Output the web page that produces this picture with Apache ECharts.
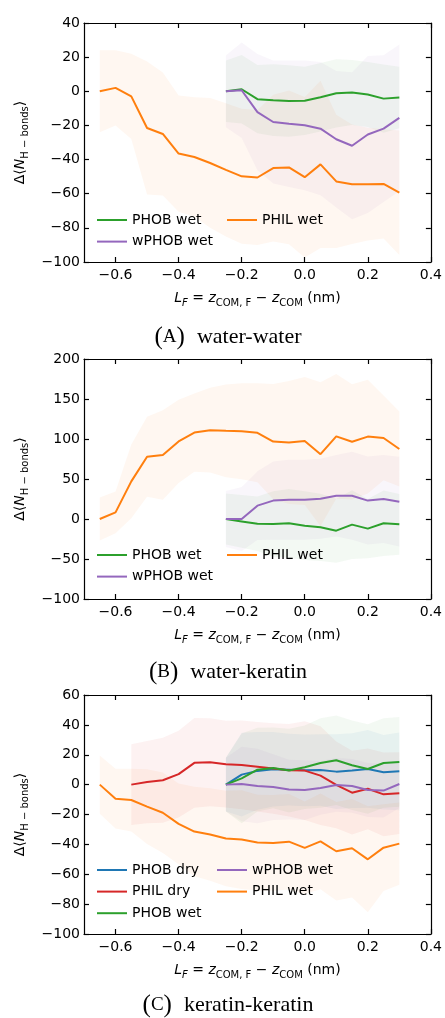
<!DOCTYPE html>
<html>
<head>
<meta charset="utf-8">
<script src="https://cdn.jsdelivr.net/npm/echarts@6/dist/echarts.min.js"></script>
<style>
  html, body { margin: 0; padding: 0; background: #ffffff; }
  #chart { width: 445px; height: 1018px; }
</style>
</head>
<body>
<div id="chart"></div>
<script>
// Filament position L_F (nm) for each family of runs
const xWet  = [-0.65, -0.6, -0.55, -0.5, -0.45, -0.4, -0.35, -0.3, -0.25, -0.2, -0.15, -0.1, -0.05, 0.0, 0.05, 0.1, 0.15, 0.2, 0.25, 0.3];
const xDry  = [-0.55, -0.5, -0.45, -0.4, -0.35, -0.3, -0.25, -0.2, -0.15, -0.1, -0.05, 0.0, 0.05, 0.1, 0.15, 0.2, 0.25, 0.3];
const xPhob = [-0.25, -0.2, -0.15, -0.1, -0.05, 0.0, 0.05, 0.1, 0.15, 0.2, 0.25, 0.3];

// Tick values
const xTicks = [-0.6, -0.4, -0.2, 0.0, 0.2, 0.4];
const yTicksA = [-100, -80, -60, -40, -20, 0, 20, 40];
const yTicksB = [-100, -50, 0, 50, 100, 150, 200];
const yTicksC = [-100, -80, -60, -40, -20, 0, 20, 40, 60];

// (A) water-water: mean change and standard deviation
const aPhobWet    = [0, 1.2, -4.6, -5.2, -5.7, -5.6, -3.5, -1.2, -0.7, -1.9, -4.3, -3.6];
const aPhobWetSd  = [18, 20, 20, 21, 21, 20, 20, 20, 19, 19, 20, 18];
const aWphobWet   = [0, 0.6, -12.2, -18, -19, -19.9, -21.9, -28.1, -31.9, -25.3, -21.9, -15.6];
const aWphobWetSd = [21, 28, 34, 36, 37, 38, 39, 40, 43, 46, 43, 43];
const aPhilWet    = [0, 2, -3, -21.5, -25, -36.5, -38.5, -42, -46, -49.8, -50.5, -45, -44.6, -50.3, -42.8, -52.8, -54.4, -54.4, -54.3, -59.4];
const aPhilWetSd  = [24, 22, 25, 39, 36, 34, 35, 38, 39, 39.5, 39.6, 43, 45, 47, 49, 39, 35, 33, 32, 36.5];

// (B) water-keratin
const bPhobWet    = [0, -3, -6, -6.3, -5.4, -8.3, -10.4, -14.6, -7, -12, -5.4, -6.7];
const bPhobWetSd  = [32, 33, 34, 41, 43, 43, 42, 40, 43, 37, 41, 38];
const bWphobWet   = [0, 0, 16.7, 23, 24, 24, 25.4, 29, 29, 23, 25, 21.7];
const bWphobWetSd = [35, 40, 43, 49, 50, 50, 50, 51, 55, 55, 55, 56];
const bPhilWet    = [0, 8.3, 47, 77.8, 80, 97, 108, 111, 110.2, 109.8, 107.8, 96.8, 95.6, 97.5, 81, 103.3, 96.5, 103, 101.3, 87.5];
const bPhilWetSd  = [27, 26, 46, 50, 56, 52, 49, 53, 58, 60, 62, 72, 77, 80, 90, 78, 72, 71, 53, 47];

// (C) keratin-keratin
const cPhobDry    = [0, 6.7, 9.2, 10.3, 10, 9.6, 9.8, 8.7, 9.4, 10.5, 8.3, 8.9];
const cPhobDrySd  = [18, 28, 26, 25, 24, 24, 24, 25, 25, 26, 25, 26];
const cPhilDry    = [0, 1.7, 2.9, 7, 14.6, 15, 13.7, 13.2, 12, 10.8, 9.6, 9.4, 6, -0.2, -5.4, -2.8, -6.5, -5.7];
const cPhilDrySd  = [27, 27.5, 28.5, 29, 30, 29.5, 29, 29.7, 30, 30.3, 31, 33, 33, 29, 28, 27, 28, 27.4];
const cPhobWet    = [0, 4.2, 10, 11.2, 9.4, 11.6, 14.5, 16.3, 13, 10.5, 14.5, 15.2];
const cPhobWetSd  = [18, 30, 28, 27, 28, 28, 30, 30, 30, 30, 30, 30];
const cWphobWet   = [0, 0.4, -0.9, -1.6, -3.3, -3.6, -2.2, -0.2, -0.9, -3.6, -4, 0.4];
const cWphobWetSd = [18, 25, 25, 22, 20, 20, 18, 18, 18, 18, 18, 16];
const cPhilWet    = [0, -9.4, -10.3, -14.7, -18.8, -26.3, -31.4, -33.4, -36.1, -36.8, -38.8, -39, -38.2, -42.3, -38, -44.6, -42.6, -50, -42.2, -39.5];
const cPhilWetSd  = [19.5, 20, 21, 25, 27, 27, 30, 31, 32, 33, 32, 32, 32, 31, 32, 33, 33, 35.5, 29, 27.5];

const BLUE = '#1f77b4', ORANGE = '#ff7f0e', GREEN = '#2ca02c', RED = '#d62728', PURPLE = '#9467bd';
const FONT = 'DejaVu Sans';
const SERIF = 'Liberation Serif';
const BAND_OPACITY = 0.06;

const minus = v => (v < 0 ? '\u2212' : '') + Math.abs(v);
const xFmt = v => (v < -1e-9 ? '\u2212' : '') + Math.abs(v).toFixed(1);

const grids = [
  { left: 84, top: 23,  width: 349, height: 239 },
  { left: 84, top: 359, width: 349, height: 240 },
  { left: 84, top: 695, width: 349, height: 239 }
];

const yRanges = [
  { min: -100, max: 40,  step: 20, ticks: yTicksA },
  { min: -100, max: 200, step: 50, ticks: yTicksB },
  { min: -100, max: 60,  step: 20, ticks: yTicksC }
];

const axisLineStyle = { color: '#000', width: 1.2 };
const tickStyle = { color: '#000', width: 1.2 };

const mathRich = {
  t:  { fontFamily: FONT, fontSize: 14, color: '#000', lineHeight: 20 },
  i:  { fontFamily: FONT, fontSize: 14, fontStyle: 'italic', color: '#000', lineHeight: 20 },
  s:  { fontFamily: FONT, fontSize: 10, color: '#000', verticalAlign: 'bottom', lineHeight: 16 },
  si: { fontFamily: FONT, fontSize: 10, fontStyle: 'italic', color: '#000', verticalAlign: 'bottom', lineHeight: 16 }
};
const xName = '{i|L}{si|F}{t| = }{i|z}{s|COM, F}{t| \u2212 }{i|z}{s|COM}{t| (nm)}';
const yName = '{t|\u0394\u27E8}{i|N}{s|H \u2212 bonds}{t|\u27E9}';

const xAxes = [], yAxes = [];
grids.forEach((g, k) => {
  xAxes.push({
    type: 'value', gridIndex: k, min: -0.7, max: 0.4, position: 'bottom',
    axisLine: { onZero: false, lineStyle: axisLineStyle },
    axisTick: { inside: true, length: 5, customValues: xTicks, lineStyle: tickStyle },
    axisLabel: { customValues: xTicks, formatter: xFmt, color: '#000', fontFamily: FONT, fontSize: 14, margin: 6 },
    splitLine: { show: false },
    name: xName, nameLocation: 'middle', nameGap: 26,
    nameTextStyle: { rich: mathRich }
  });
  xAxes.push({
    type: 'value', gridIndex: k, min: -0.7, max: 0.4, position: 'top',
    axisLine: { onZero: false, lineStyle: axisLineStyle },
    axisTick: { inside: true, length: 5, customValues: xTicks, lineStyle: tickStyle },
    axisLabel: { show: false },
    splitLine: { show: false }
  });
  const r = yRanges[k];
  yAxes.push({
    type: 'value', gridIndex: k, min: r.min, max: r.max, interval: r.step, position: 'left',
    axisLine: { show: true, onZero: false, lineStyle: axisLineStyle },
    axisTick: { show: true, inside: true, length: 5, lineStyle: tickStyle },
    axisLabel: { formatter: minus, color: '#000', fontFamily: FONT, fontSize: 14, margin: 4, showMinLabel: true, showMaxLabel: true },
    splitLine: { show: false },
    name: yName, nameLocation: 'middle', nameGap: 53,
    nameTextStyle: { rich: mathRich }
  });
  yAxes.push({
    type: 'value', gridIndex: k, min: r.min, max: r.max, interval: r.step, position: 'right',
    axisLine: { show: true, onZero: false, lineStyle: axisLineStyle },
    axisTick: { show: true, inside: true, length: 5, lineStyle: tickStyle },
    axisLabel: { show: false },
    splitLine: { show: false }
  });
});

const series = [];
// translucent mean ± sd band, drawn as one polygon through the axis scales
function band(panel, xs, mean, sd, color) {
  const pts = xs.map((x, i) => [x, mean[i] - sd[i], mean[i] + sd[i]]);
  series.push({
    type: 'custom', xAxisIndex: panel * 2, yAxisIndex: panel * 2,
    silent: true, z: 1, animation: false,
    data: pts,
    encode: { x: 0, y: [1, 2] },
    renderItem: function (params, api) {
      if (params.dataIndex !== 0) return null;
      const upper = pts.map(p => api.coord([p[0], p[2]]));
      const lower = pts.map(p => api.coord([p[0], p[1]])).reverse();
      return {
        type: 'polygon',
        shape: { points: upper.concat(lower) },
        style: { fill: color, opacity: BAND_OPACITY }
      };
    }
  });
}
function line(panel, name, xs, mean, color) {
  series.push({
    type: 'line', name: name, xAxisIndex: panel * 2, yAxisIndex: panel * 2,
    data: xs.map((x, i) => [x, mean[i]]),
    symbol: 'none', color: color, z: 3, animation: false,
    lineStyle: { color: color, width: 2 }, emphasis: { disabled: true }
  });
}

// (A)
band(0, xPhob, aPhobWet, aPhobWetSd, GREEN);
band(0, xWet, aPhilWet, aPhilWetSd, ORANGE);
band(0, xPhob, aWphobWet, aWphobWetSd, PURPLE);
line(0, 'PHOB wet', xPhob, aPhobWet, GREEN);
line(0, 'PHIL wet', xWet, aPhilWet, ORANGE);
line(0, 'wPHOB wet', xPhob, aWphobWet, PURPLE);
// (B)
band(1, xPhob, bPhobWet, bPhobWetSd, GREEN);
band(1, xWet, bPhilWet, bPhilWetSd, ORANGE);
band(1, xPhob, bWphobWet, bWphobWetSd, PURPLE);
line(1, 'PHOB wet', xPhob, bPhobWet, GREEN);
line(1, 'PHIL wet', xWet, bPhilWet, ORANGE);
line(1, 'wPHOB wet', xPhob, bWphobWet, PURPLE);
// (C)
band(2, xPhob, cPhobDry, cPhobDrySd, BLUE);
band(2, xDry, cPhilDry, cPhilDrySd, RED);
band(2, xPhob, cPhobWet, cPhobWetSd, GREEN);
band(2, xPhob, cWphobWet, cWphobWetSd, PURPLE);
band(2, xWet, cPhilWet, cPhilWetSd, ORANGE);
line(2, 'PHOB dry', xPhob, cPhobDry, BLUE);
line(2, 'PHIL dry', xDry, cPhilDry, RED);
line(2, 'PHOB wet', xPhob, cPhobWet, GREEN);
line(2, 'wPHOB wet', xPhob, cWphobWet, PURPLE);
line(2, 'PHIL wet', xWet, cPhilWet, ORANGE);

function legendCol(left, top, names) {
  return {
    left: left, top: top, orient: 'vertical', padding: 0,
    itemWidth: 30, itemHeight: 2, itemGap: 5.6, icon: 'rect',
    selectedMode: false, data: names,
    textStyle: { fontFamily: FONT, fontSize: 14, color: '#000', lineHeight: 16 }
  };
}

const captionRich = {
  p: { fontFamily: SERIF, fontSize: 25, color: '#000' },
  a: { fontFamily: SERIF, fontSize: 19, color: '#000' },
  t: { fontFamily: SERIF, fontSize: 22, color: '#000', padding: [0, 0, 0, 12] }
};
function caption(y, letter, text) {
  return {
    type: 'text', x: 228, y: y,
    style: {
      text: '{p|(}{a|' + letter + '}{p|)}{t|' + text + '}',
      rich: captionRich, align: 'center', verticalAlign: 'middle'
    }
  };
}

const chart = echarts.init(document.getElementById('chart'), null, { renderer: 'canvas' });
chart.setOption({
  backgroundColor: '#ffffff',
  animation: false,
  grid: grids,
  xAxis: xAxes,
  yAxis: yAxes,
  legend: [
    legendCol(97, 212, ['PHOB wet', 'wPHOB wet']),
    legendCol(227, 212, ['PHIL wet']),
    legendCol(97, 547, ['PHOB wet', 'wPHOB wet']),
    legendCol(227, 547, ['PHIL wet']),
    legendCol(97, 862, ['PHOB dry', 'PHIL dry', 'PHOB wet']),
    legendCol(217, 862, ['wPHOB wet', 'PHIL wet'])
  ],
  graphic: [
    caption(337, 'A', 'water-water'),
    caption(672, 'B', 'water-keratin'),
    caption(1005, 'C', 'keratin-keratin')
  ],
  series: series
});
</script>
</body>
</html>
